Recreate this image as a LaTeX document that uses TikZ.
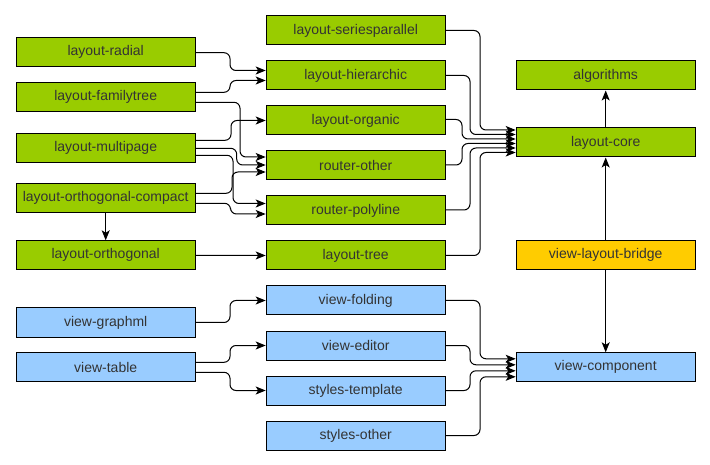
\documentclass[tikz,border=0pt]{standalone}
\usepackage{fontspec}
\setmainfont{Liberation Sans}
\usetikzlibrary{arrows.meta,calc}
\definecolor{boxgreen}{HTML}{99CC00}
\definecolor{boxblue}{HTML}{99CCFF}
\definecolor{boxorange}{HTML}{FFCC00}
\definecolor{labeltext}{HTML}{333333}

\begin{document}
\begin{tikzpicture}[x=1pt,y=-1pt,
  module/.style={draw=black, line width=1pt, minimum width=179pt, minimum height=29pt,
                 inner sep=0pt, text=labeltext, font=\fontsize{14}{16}\selectfont},
  greenbox/.style={module, fill=boxgreen},
  bluebox/.style={module, fill=boxblue},
  orangebox/.style={module, fill=boxorange},
  dep/.style={draw=black, line width=1pt, rounded corners=6pt,
              -{Stealth[length=10pt,width=8pt,inset=2.5pt]}},
]
\useasboundingbox[fill=white] (0,0) rectangle (710,465);

% left column
\node[greenbox] (radial)     at (105.7,52.3)  {layout-radial};
\node[greenbox] (familytree) at (105.7,97.3)  {layout-familytree};
\node[greenbox] (multipage)  at (105.7,148.3) {layout-multipage};
\node[greenbox] (orthoc)     at (105.7,198.3) {layout-orthogonal-compact};
\node[greenbox] (ortho)      at (105.7,255.3) {layout-orthogonal};
\node[bluebox]  (graphml)    at (105.7,322.5) {view-graphml};
\node[bluebox]  (table)      at (105.7,367.3) {view-table};

% middle column
\node[greenbox] (sp)      at (355.7,30.5)  {layout-seriesparallel};
\node[greenbox] (hier)    at (355.7,75.5)  {layout-hierarchic};
\node[greenbox] (organic) at (355.7,120.5) {layout-organic};
\node[greenbox] (rother)  at (355.7,165.5) {router-other};
\node[greenbox] (rpoly)   at (355.7,210.5) {router-polyline};
\node[greenbox] (tree)    at (355.7,255.5) {layout-tree};
\node[bluebox]  (fold)    at (355.7,300.5) {view-folding};
\node[bluebox]  (editor)  at (355.7,345.5) {view-editor};
\node[bluebox]  (stpl)    at (355.7,390.5) {styles-template};
\node[bluebox]  (sother)  at (355.7,435.5) {styles-other};

% right column
\node[greenbox]  (algorithms) at (605.7,75.5)  {algorithms};
\node[greenbox]  (lcore)      at (605.7,142.5) {layout-core};
\node[orangebox] (bridge)     at (605.7,255.3) {view-layout-bridge};
\node[bluebox]   (comp)       at (605.7,367.3) {view-component};

% left -> middle
\draw[dep] ($(radial.east)+(0,0.4)$)   -- ++(34.3,0) |- ($(hier.west)+(0,-5)$);
\draw[dep] ($(familytree.east)+(0,-5)$) -- ++(34.3,0) |- ($(hier.west)+(0,5)$);
\draw[dep] ($(familytree.east)+(0,5)$)  -- ++(44.3,0) |- ($(rother.west)+(0,-8.5)$);
\draw[dep] ($(multipage.east)+(0,-8)$)  -- ++(35.3,0) |- (organic.west);
\draw[dep] (multipage.east)             -- ++(41,0)   |- ($(rother.west)+(0,-0.5)$);
\draw[dep] ($(multipage.east)+(0,7)$)   -- ++(37.3,0) |- ($(rpoly.west)+(0,-7)$);
\draw[dep] ($(orthoc.east)+(0,-5)$)     -- ++(36.3,0) |- ($(rother.west)+(0,6.5)$);
\draw[dep] ($(orthoc.east)+(0,5)$)      -- ++(34.8,0) |- ($(rpoly.west)+(0,3.5)$);
\draw[dep] (orthoc.south) -- (ortho.north);
\draw[dep] (ortho.east) -- (tree.west);
\draw[dep] (graphml.east)              -- ++(34.3,0) |- (fold.west);
\draw[dep] ($(table.east)+(0,-5)$)     -- ++(34.3,0) |- (editor.west);
\draw[dep] ($(table.east)+(0,5)$)      -- ++(34.3,0) |- (stpl.west);

% middle -> layout-core
\draw[dep] (sp.east)                   -- ++(34.3,0) |- ($(lcore.west)+(0,-12.5)$);
\draw[dep] (hier.east)                 -- ++(24.3,0) |- ($(lcore.west)+(0,-8)$);
\draw[dep] ($(organic.east)+(0,-1)$)   -- ++(16.3,0) |- ($(lcore.west)+(0,-3.5)$);
\draw[dep] ($(rother.east)+(0,-0.5)$)  -- ++(16.3,0) |- ($(lcore.west)+(0,1)$);
\draw[dep] ($(rpoly.east)+(0,-0.5)$)   -- ++(24.3,0) |- ($(lcore.west)+(0,5.5)$);
\draw[dep] (tree.east)                 -- ++(34.3,0) |- ($(lcore.west)+(0,10)$);

% middle -> view-component
\draw[dep] (fold.east)   -- ++(34.3,0) |- ($(comp.west)+(0,-8.5)$);
\draw[dep] (editor.east) -- ++(24.3,0) |- ($(comp.west)+(0,-2.5)$);
\draw[dep] (stpl.east)   -- ++(24.3,0) |- ($(comp.west)+(0,3.5)$);
\draw[dep] (sother.east) -- ++(34.3,0) |- ($(comp.west)+(0,9.5)$);

% right column
\draw[dep] (lcore.north)  -- (algorithms.south);
\draw[dep] (bridge.north) -- (lcore.south);
\draw[dep] (bridge.south) -- (comp.north);
\end{tikzpicture}
\end{document}
